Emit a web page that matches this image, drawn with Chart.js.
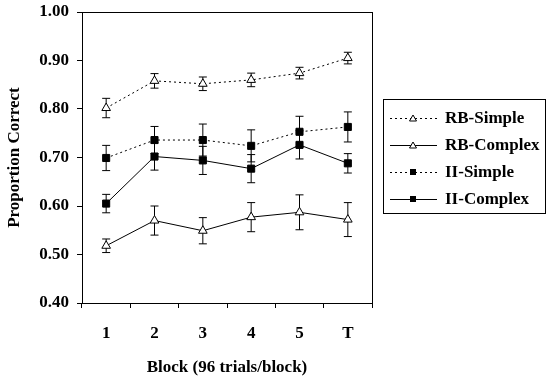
<!DOCTYPE html>
<html>
<head>
<meta charset="utf-8">
<script src="https://cdn.jsdelivr.net/npm/chart.js@4"></script>
<style>
  html, body { margin: 0; padding: 0; background: #fff; }
  #wrap { width: 549px; height: 379px; }
</style>
</head>
<body>
<div id="wrap"><canvas id="myChart" width="549" height="379"></canvas></div>
<script>
// Chart data
const blocks = ['1', '2', '3', '4', '5', 'T'];

const rbSimple = [0.802, 0.858, 0.852, 0.860, 0.874, 0.905];
const rbSimpleErr = [0.020, 0.015, 0.014, 0.014, 0.012, 0.012];

const rbComplex = [0.518, 0.570, 0.549, 0.577, 0.587, 0.572];
const rbComplexErr = [0.014, 0.030, 0.027, 0.030, 0.036, 0.035];

const iiSimple = [0.699, 0.736, 0.736, 0.724, 0.753, 0.763];
const iiSimpleErr = [0.026, 0.028, 0.033, 0.033, 0.032, 0.031];

const iiComplex = [0.605, 0.702, 0.694, 0.677, 0.726, 0.688];
const iiComplexErr = [0.019, 0.028, 0.029, 0.029, 0.029, 0.020];

const yTicks = [0.4, 0.5, 0.6, 0.7, 0.8, 0.9, 1.0];

const serif = '"Liberation Serif", "Times New Roman", serif';

// draws error bars using the chart scales (under the markers)
const errorBars = {
    id: 'errorBars',
    beforeDatasetsDraw(chart) {
        const ctx = chart.ctx;
        const y = chart.scales.y;
        ctx.save();
        ctx.strokeStyle = '#000';
        ctx.lineWidth = 1;
        chart.data.datasets.forEach((ds, i) => {
            const meta = chart.getDatasetMeta(i);
            meta.data.forEach((pt, j) => {
                const v = ds.data[j], e = ds.err[j];
                const top = y.getPixelForValue(v + e);
                const bot = y.getPixelForValue(v - e);
                const x = pt.x;
                ctx.beginPath();
                ctx.moveTo(x, top); ctx.lineTo(x, bot);
                ctx.moveTo(x - 4, top); ctx.lineTo(x + 4, top);
                ctx.moveTo(x - 4, bot); ctx.lineTo(x + 4, bot);
                ctx.stroke();
            });
        });
        ctx.restore();
    }
};

// box round plot area + boxed legend on the right
const frameAndLegend = {
    id: 'frameAndLegend',
    afterDraw(chart) {
        const ctx = chart.ctx;
        const a = chart.chartArea;
        ctx.save();
        ctx.strokeStyle = '#000';
        ctx.lineWidth = 1;
        ctx.strokeRect(a.left + 0.5, a.top + 0.5, a.right - a.left, a.bottom - a.top);

        // legend
        const lx = 383, ly = 99, lw = 162, lh = 114;
        ctx.strokeRect(lx + 0.5, ly + 0.5, lw, lh);
        ctx.font = 'bold 17px ' + serif;
        ctx.textBaseline = 'middle';
        ctx.fillStyle = '#000';
        chart.data.datasets.forEach((ds, i) => {
            const yy = 118 + i * 27;
            ctx.beginPath();
            ctx.setLineDash(ds.borderDash || []);
            ctx.moveTo(390, yy + 0.5); ctx.lineTo(437, yy + 0.5);
            ctx.stroke();
            ctx.setLineDash([]);
            const cx = 413;
            if (ds.pointStyle === 'triangle') {
                ctx.beginPath();
                ctx.moveTo(cx, yy - 3); ctx.lineTo(cx + 3.5, yy + 3); ctx.lineTo(cx - 3.5, yy + 3);
                ctx.closePath();
                ctx.fillStyle = '#fff'; ctx.fill(); ctx.stroke();
            } else {
                ctx.fillStyle = '#000';
                ctx.fillRect(cx - 3, yy - 3, 6, 6);
            }
            ctx.fillStyle = '#000';
            ctx.fillText(ds.label, 445, yy + 1);
        });
        ctx.restore();
    }
};

function series(label, data, err, dashed, marker) {
    return {
        label: label,
        data: data,
        err: err,
        borderColor: '#000',
        borderWidth: 1,
        borderDash: dashed ? [2, 3] : [],
        pointStyle: marker,
        pointRadius: 5,
        pointBackgroundColor: marker === 'triangle' ? '#fff' : '#000',
        pointBorderColor: '#000',
        pointBorderWidth: 1,
        tension: 0
    };
}

const ctx = document.getElementById('myChart').getContext('2d');
const myChart = new Chart(ctx, {
    type: 'line',
    data: {
        labels: blocks,
        datasets: [
            series('RB-Simple', rbSimple, rbSimpleErr, true, 'triangle'),
            series('RB-Complex', rbComplex, rbComplexErr, false, 'triangle'),
            series('II-Simple', iiSimple, iiSimpleErr, true, 'rect'),
            series('II-Complex', iiComplex, iiComplexErr, false, 'rect')
        ]
    },
    options: {
        responsive: false,
        animation: false,
        layout: { padding: { top: 12, right: 177, left: 0, bottom: 0 } },
        plugins: {
            legend: { display: false },
            tooltip: { enabled: false }
        },
        scales: {
            x: {
                offset: true,
                grid: { drawOnChartArea: false, drawTicks: true, tickLength: 5, color: '#000', offset: true },
                border: { display: true, color: '#000', width: 1 },
                ticks: { color: '#000', padding: 15, maxRotation: 0, font: { family: serif, size: 17, weight: 'bold' } },
                title: { display: true, text: 'Block (96 trials/block)', color: '#000', padding: { top: 0, bottom: 1 }, font: { family: serif, size: 17, weight: 'bold' } },
                afterFit(scale) { scale.height = 76; }
            },
            y: {
                min: 0.4,
                max: 1.0,
                afterBuildTicks(scale) { scale.ticks = yTicks.map(v => ({ value: v })); },
                grid: { drawOnChartArea: false, drawTicks: true, tickLength: 5, color: '#000' },
                border: { display: true, color: '#000', width: 1 },
                ticks: { color: '#000', padding: 8, callback: v => Number(v).toFixed(2), font: { family: serif, size: 17, weight: 'bold' } },
                title: { display: true, text: 'Proportion Correct', color: '#000', padding: { top: 4, bottom: 0 }, font: { family: serif, size: 17, weight: 'bold' } },
                afterFit(scale) {
                    scale.width = 82;
                    scale.paddingTop = 0;
                    scale.paddingBottom = 0;
                }
            }
        }
    },
    plugins: [errorBars, frameAndLegend]
});
</script>
</body>
</html>
